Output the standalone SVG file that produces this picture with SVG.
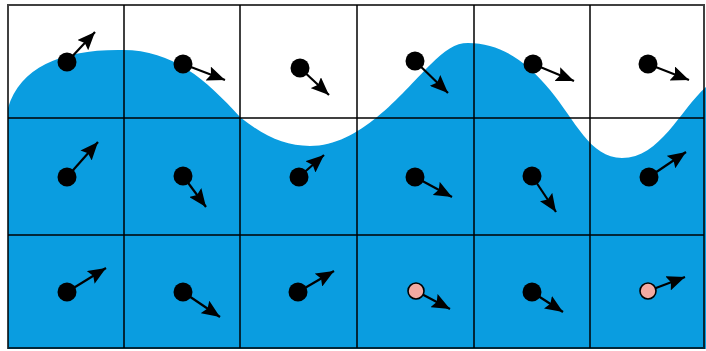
<svg xmlns="http://www.w3.org/2000/svg" width="706" height="351" viewBox="0 0 706 351">
<style>
.grid{stroke:#000;stroke-opacity:0.75;stroke-width:2;fill:none}
.p{fill:#000}
.pk{fill:#f2aaa2;stroke:#000;stroke-width:1.6}
.a{stroke:#000;stroke-width:2.2;fill:none;marker-end:url(#ah)}
</style>
<defs>
<marker id="ah" markerUnits="userSpaceOnUse" markerWidth="19" markerHeight="15" refX="18" refY="7.5" orient="auto">
<path d="M0,0 L18,7.5 L0,15 L3,7.5 z" fill="#000"/>
</marker>
</defs>
<rect x="0" y="0" width="706" height="351" fill="#fff"/>
<path id="water" d="M8 108 C20 68 60 50 118 50 C170 48 205 78 240 117 C265 137 285 146 310 146 C360 146 400 95 430 65 C445 50 455 43 468 43 C500 43 525 60 550 90 C575 120 590 158 622 158 C660 158 680 110 706 87 L706 349 L8 349 Z" fill="#0a9de0"/>
<g id="grid" class="grid">
<rect x="8" y="5" width="696" height="343"/>
<line x1="124" y1="5" x2="124" y2="348"/>
<line x1="240" y1="5" x2="240" y2="348"/>
<line x1="357" y1="5" x2="357" y2="348"/>
<line x1="474" y1="5" x2="474" y2="348"/>
<line x1="590" y1="5" x2="590" y2="348"/>
<line x1="8" y1="118" x2="704" y2="118"/>
<line x1="8" y1="235" x2="704" y2="235"/>
</g>
<g id="connectors">
<line class="a" x1="67" y1="62" x2="95" y2="32"/>
<line class="a" x1="183" y1="64" x2="225" y2="80"/>
<line class="a" x1="300" y1="68" x2="329" y2="95"/>
<line class="a" x1="415" y1="61" x2="448" y2="93"/>
<line class="a" x1="533" y1="64" x2="574" y2="81"/>
<line class="a" x1="648" y1="64" x2="689" y2="80"/>
<line class="a" x1="67" y1="177" x2="98" y2="142"/>
<line class="a" x1="183" y1="176" x2="206" y2="207"/>
<line class="a" x1="299" y1="177" x2="324" y2="155"/>
<line class="a" x1="415" y1="177" x2="452" y2="197"/>
<line class="a" x1="532" y1="176" x2="556" y2="212"/>
<line class="a" x1="649" y1="177" x2="686" y2="152"/>
<line class="a" x1="67" y1="292" x2="106" y2="268"/>
<line class="a" x1="183" y1="292" x2="220" y2="317"/>
<line class="a" x1="298" y1="292" x2="334" y2="271"/>
<line class="a" x1="416" y1="291" x2="450" y2="309"/>
<line class="a" x1="532" y1="292" x2="563" y2="312"/>
<line class="a" x1="648" y1="291" x2="685" y2="277"/>
</g>
<g id="p11"><circle class="p" cx="67" cy="62" r="9.5"/></g>
<g id="p12"><circle class="p" cx="183" cy="64" r="9.5"/></g>
<g id="p13"><circle class="p" cx="300" cy="68" r="9.5"/></g>
<g id="p14"><circle class="p" cx="415" cy="61" r="9.5"/></g>
<g id="p15"><circle class="p" cx="533" cy="64" r="9.5"/></g>
<g id="p16"><circle class="p" cx="648" cy="64" r="9.5"/></g>
<g id="p21"><circle class="p" cx="67" cy="177" r="9.5"/></g>
<g id="p22"><circle class="p" cx="183" cy="176" r="9.5"/></g>
<g id="p23"><circle class="p" cx="299" cy="177" r="9.5"/></g>
<g id="p24"><circle class="p" cx="415" cy="177" r="9.5"/></g>
<g id="p25"><circle class="p" cx="532" cy="176" r="9.5"/></g>
<g id="p26"><circle class="p" cx="649" cy="177" r="9.5"/></g>
<g id="p31"><circle class="p" cx="67" cy="292" r="9.5"/></g>
<g id="p32"><circle class="p" cx="183" cy="292" r="9.5"/></g>
<g id="p33"><circle class="p" cx="298" cy="292" r="9.5"/></g>
<g id="p34"><circle class="pk" cx="416" cy="291" r="8"/></g>
<g id="p35"><circle class="p" cx="532" cy="292" r="9.5"/></g>
<g id="p36"><circle class="pk" cx="648" cy="291" r="8"/></g>
</svg>
